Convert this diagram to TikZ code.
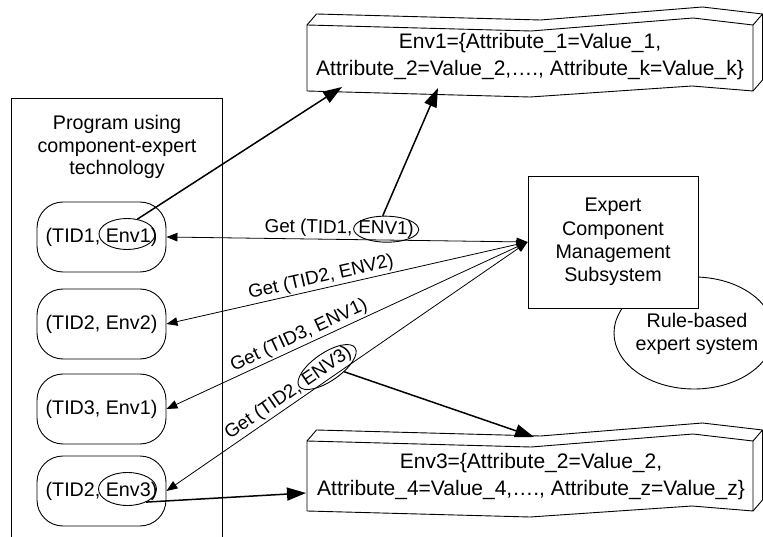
\documentclass[tikz,border=0pt]{standalone}
\usepackage{fontspec}
\setmainfont{Liberation Sans}
\usetikzlibrary{arrows.meta,shapes.geometric,calc}

\newcommand\txtmain{\fontsize{19.7}{22.7}\selectfont}
\newcommand\txtenv{\fontsize{21}{27}\selectfont}
\newcommand\txtget{\fontsize{18.8}{22}\selectfont}

% extruded box with wavy top and bottom edges; #1 = top of front face, #2 = height
\newcommand\envbox[2]{%
  \begin{scope}[shift={(307,#1)}]
    \draw[boxline] (0,0) -- (224,6) -- (386,-7) -- (446,0) -- (446,#2)
      -- (385,#2-5) -- (223,#2+6) -- (0,#2) -- cycle;
    \draw[boxline] (0,0) -- (9.5,-11) -- (233.5,-5) -- (395.5,-18) -- (455.5,-11) -- (446,0);
    \draw[boxline] (455.5,-11) -- (455.5,#2-11) -- (446,#2);
  \end{scope}}

\tikzset{
  boxline/.style={line width=0.9pt, line join=round},
  tidbox/.style={draw, line width=0.9pt, rounded corners=26pt, minimum width=129pt,
    minimum height=70pt, inner sep=0pt, font=\txtmain},
  ring/.style={draw, ellipse, line width=0.9pt, inner sep=0pt},
  getline/.style={line width=0.8pt,
    {Triangle[length=11pt,width=8.5pt]}-{Triangle[length=11pt,width=8.5pt]}},
  fatarrow/.style={line width=1.5pt, -{Triangle[length=19pt,width=13pt]}},
  lbl/.style={font=\txtget, inner xsep=2.6pt, inner ysep=1.7pt, sloped},
}

\begin{document}
\begin{tikzpicture}[x=1pt,y=-1pt]
\useasboundingbox (0,0) rectangle (763,537);

% attribute sets of the environments
\envbox{25}{66}
\envbox{441}{70}
\node[font=\txtenv, align=center] (env1) at (530,57)
  {Env1=\{Attribute\_1=Value\_1,\\Attribute\_2=Value\_2,…., Attribute\_k=Value\_k\}};
\node[font=\txtenv, align=center] (env3) at (531,477)
  {Env3=\{Attribute\_2=Value\_2,\\Attribute\_4=Value\_4,…., Attribute\_z=Value\_z\}};
\coordinate (t1a) at (342,87);
\coordinate (t1b) at (438,88);
\coordinate (t3a) at (534,437);
\coordinate (t3b) at (306,493);

% program column (runs past the lower edge)
\node[draw, line width=0.9pt, minimum width=211pt, minimum height=470pt, anchor=north,
  inner sep=0pt] (prog) at (116.5,98) {};
\node[font=\txtmain, align=center] (title) at (117,147)
  {Program using\\component-expert\\technology};

\node[tidbox] (n1) at (101.5,237) {(TID1, Env1)};
\node[tidbox] (n2) at (101.5,324) {(TID2, Env2)};
\node[tidbox] (n3) at (101.5,409) {(TID3, Env1)};
\node[tidbox] (n4) at (101.5,491) {(TID2, Env3)};
\node[ring, minimum width=56pt, minimum height=31pt] (e1) at ($(n1.center)+(25.5,-3)$) {};
\node[ring, minimum width=58pt, minimum height=33pt] (e4) at ($(n4.center)+(26,-2)$) {};

% expert subsystem and its rule base
\node[draw, ellipse, line width=0.9pt, minimum width=160pt, minimum height=112pt,
  inner sep=0pt] (rule) at (694,333) {};
\node[font=\txtmain, align=center] (ruletext) at ($(rule.center)+(3,1)$)
  {Rule-based\\expert system};
\node[draw, fill=white, line width=0.9pt, minimum width=170pt, minimum height=132pt,
  font=\fontsize{19.7}{23.3}\selectfont, align=center] (ex) at (613,242)
  {Expert\\Component\\Management\\Subsystem};

% requests between the program and the subsystem
\draw[getline] (n1.east) --
  node[lbl, pos=.523, anchor=south east] (g1) {Get (TID1,}
  node[lbl, pos=.523, anchor=south west] (v1) {ENV1)} (ex.west);
\draw[getline] (n2.east) --
  node[lbl, pos=.435, anchor=south] (g2) {Get (TID2, ENV2)} (ex.west);
\draw[getline] (n3.east) --
  node[lbl, pos=.38, anchor=south] (g3) {Get (TID3, ENV1)} (ex.west);
\draw[getline] (n4.east) --
  node[lbl, pos=.392, anchor=south east] (g4) {Get (TID2,}
  node[lbl, pos=.392, anchor=south west] (v4) {ENV3)} (ex.west);

\path let \p1=($(v1.south east)-(v1.south west)$), \n1={atan2(\y1,\x1)} in
  node[ring, rotate=\n1, minimum width=65pt, minimum height=26pt] (r1) at (v1.center) {};
\path let \p1=($(v4.south east)-(v4.south west)$), \n1={atan2(\y1,\x1)} in
  node[ring, rotate=\n1, minimum width=68pt, minimum height=28pt] (r4) at (v4.center) {};

% environment references resolved to attribute sets
\draw[fatarrow] (e1.55) -- (t1a);
\draw[fatarrow] (r1.105) -- (t1b);
\draw[fatarrow] (r4.-50) -- (t3a);
\draw[fatarrow] (e4.-35) -- (t3b);
\end{tikzpicture}
\end{document}
